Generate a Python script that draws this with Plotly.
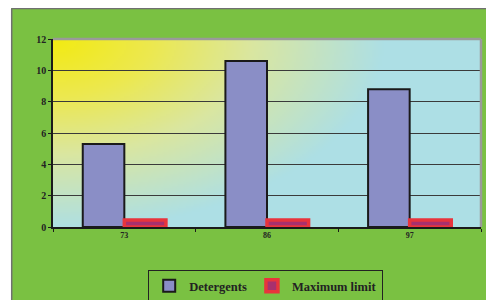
import base64, struct, zlib, math
import plotly.graph_objects as go

categories = ["73", "86", "97"]
detergents = [5.3, 10.6, 8.8]
max_limit = [0.45, 0.45, 0.45]
y_ticks = [0, 2, 4, 6, 8, 10, 12]

# --- background gradient image (yellow top-left -> light blue) ---
W, H = 214, 94
stops = [(0.0, (242, 234, 18)), (0.3, (236, 232, 80)), (0.6, (218, 230, 160)), (1.0, (173, 223, 229))]

def col(t):
    t = max(0.0, min(1.0, t))
    for (t0, c0), (t1, c1) in zip(stops, stops[1:]):
        if t <= t1:
            f = (t - t0) / (t1 - t0)
            return tuple(int(round(a + (b - a) * f)) for a, b in zip(c0, c1))
    return stops[-1][1]

rows = []
for j in range(H):
    row = bytearray([0])
    for i in range(W):
        u = i / W * 428
        v = j / H * 188
        d = math.sqrt((u / 330) ** 2 + (v / 190) ** 2)
        row.extend(col(d))
    rows.append(bytes(row))

def chunk(tag, data):
    c = struct.pack(">I", len(data)) + tag + data
    return c + struct.pack(">I", zlib.crc32(tag + data) & 0xffffffff)

png = b"\x89PNG\r\n\x1a\n" + chunk(b"IHDR", struct.pack(">IIBBBBB", W, H, 8, 2, 0, 0, 0)) \
    + chunk(b"IDAT", zlib.compress(b"".join(rows), 9)) + chunk(b"IEND", b"")
img_src = "data:image/png;base64," + base64.b64encode(png).decode()

font_fam = "Liberation Serif, Times New Roman, serif"

fig = go.Figure()
fig.add_trace(go.Bar(
    x=categories, y=detergents, name="Detergents",
    marker=dict(color="#8A8EC6", line=dict(color="#1a1a1a", width=2)),
))
fig.add_trace(go.Bar(
    x=categories, y=max_limit, name="Maximum limit",
    marker=dict(color="#A8306E", line=dict(color="#E8343C", width=3.5)),
))

# page body has an 8px margin: figure occupies x 8..494, y 8..300
PL, PT = 45, 31  # plot area left/top inside the figure
fig.update_layout(
    width=486, height=292,
    margin=dict(l=PL, r=13, t=PT, b=73, autoexpand=False),
    paper_bgcolor="#7AC142",
    plot_bgcolor="rgba(0,0,0,0)",
    barmode="group", bargap=0.417, bargroupgap=0,
    showlegend=True,
    legend=dict(
        orientation="h", x=0.4965, xanchor="center", y=-0.314, yanchor="middle",
        bgcolor="rgba(0,0,0,0)", bordercolor="#222", borderwidth=1.2,
        font=dict(family=font_fam, size=12.5, color="#222", weight="bold"),
        itemwidth=30,
    ),
    images=[dict(source=img_src, xref="paper", yref="paper", x=0, y=1,
                 sizex=1, sizey=1, sizing="stretch", layer="below", xanchor="left", yanchor="top")],
    shapes=[
        dict(type="rect", xref="paper", yref="paper", x0=-PL / 428 - 0.01, x1=(3 - PL) / 428,
             y0=-0.5, y1=1.3, fillcolor="white", line=dict(width=0), layer="below"),
        dict(type="line", xref="paper", yref="paper", x0=(3.7 - PL) / 428, x1=(3.7 - PL) / 428,
             y0=-0.5, y1=(188 + PT - 0.5) / 188, line=dict(color="#707070", width=1.5)),
        dict(type="line", xref="paper", yref="paper", x0=(3.7 - PL) / 428, x1=1.1,
             y0=(188 + PT - 0.6) / 188, y1=(188 + PT - 0.6) / 188, line=dict(color="#707070", width=1.5)),
        dict(type="line", xref="paper", yref="paper", x0=0, x1=1, y0=1, y1=1,
             line=dict(color="#9a9a9a", width=2.5)),
        dict(type="line", xref="paper", yref="paper", x0=1, x1=1, y0=0, y1=1,
             line=dict(color="#9a9a9a", width=2.5)),
    ],
)

fig.update_yaxes(
    range=[0, 12], tickvals=y_ticks, showgrid=True, gridcolor="#3a3a3a", gridwidth=1.3,
    showline=True, linecolor="#1a1a1a", linewidth=1.5, ticks="outside", ticklen=3,
    tickcolor="#1a1a1a", zeroline=False,
    tickfont=dict(family=font_fam, size=10, color="#222", weight="bold"),
)
fig.update_xaxes(
    type="category", showline=True, linecolor="#1a1a1a", linewidth=1.5,
    ticks="outside", ticklen=3, tickson="boundaries", tickcolor="#1a1a1a",
    showgrid=False,
    tickfont=dict(family=font_fam, size=8, color="#222", weight="bold"),
)

fig.write_html("out.html")
